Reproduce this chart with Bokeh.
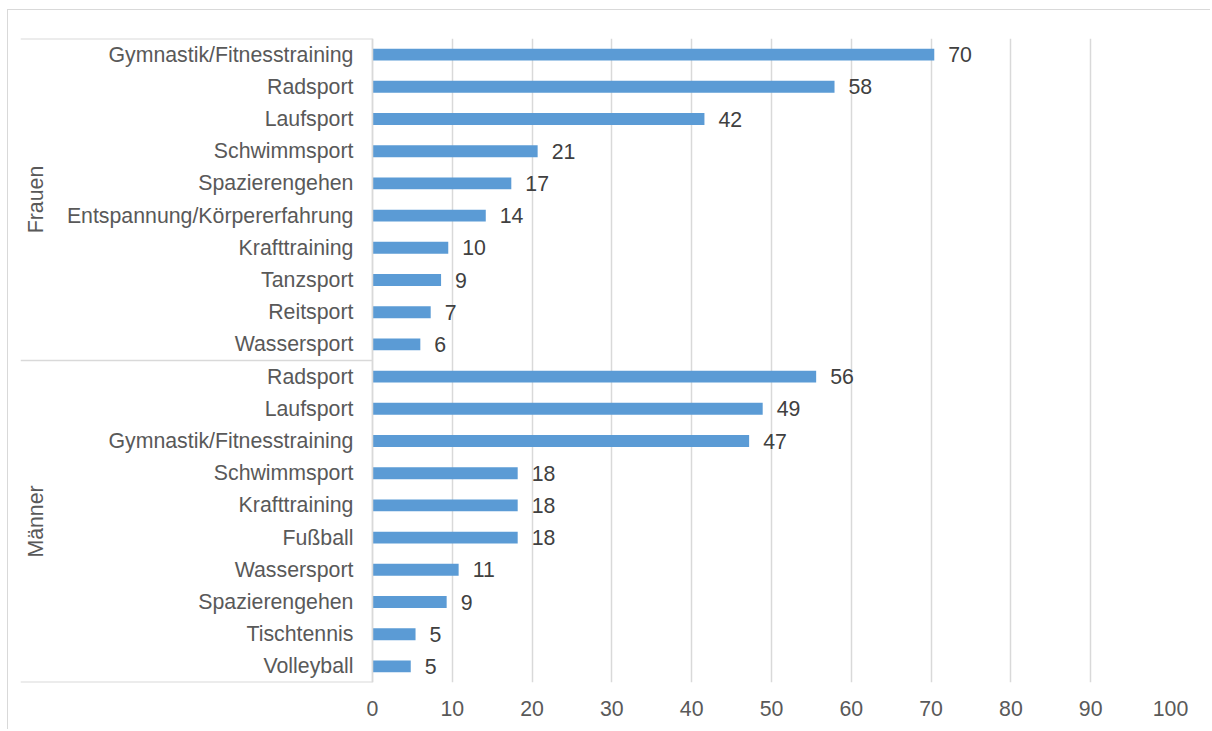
import math
from bokeh.plotting import figure
from bokeh.models import ColumnDataSource, FactorRange, Range1d, FixedTicker
from bokeh.core.properties import value
from bokeh.embed import file_html
from bokeh.resources import INLINE

# ---------------- data ----------------
groups = ["Frauen", "Männer"]

frauen_sports = ["Gymnastik/Fitnesstraining", "Radsport", "Laufsport", "Schwimmsport",
                 "Spazierengehen", "Entspannung/Körpererfahrung", "Krafttraining",
                 "Tanzsport", "Reitsport", "Wassersport"]
frauen_values = [70.4, 57.9, 41.6, 20.7, 17.4, 14.2, 9.5, 8.6, 7.3, 6.0]
frauen_labels = ["70", "58", "42", "21", "17", "14", "10", "9", "7", "6"]

maenner_sports = ["Radsport", "Laufsport", "Gymnastik/Fitnesstraining", "Schwimmsport",
                  "Krafttraining", "Fußball", "Wassersport", "Spazierengehen",
                  "Tischtennis", "Volleyball"]
maenner_values = [55.6, 48.9, 47.2, 18.2, 18.2, 18.2, 10.8, 9.3, 5.4, 4.8]
maenner_labels = ["56", "49", "47", "18", "18", "18", "11", "9", "5", "5"]

x_ticks = [0, 10, 20, 30, 40, 50, 60, 70, 80, 90, 100]

# ---------------- style ----------------
FONT = "Liberation Sans"
FS = "21.3px"
BAR_COLOR = "#5B9BD5"
GRID_COLOR = "#d9d9d9"
LABEL_COLOR = "#595959"
VALUE_COLOR = "#404040"
X_START = -44.1          # left room (in value units) for the category labels
GROUP_LABEL_X = -42.2

# bottom-to-top order for Bokeh's factor range
rows = [("Männer", s, v, l) for s, v, l in zip(maenner_sports, maenner_values, maenner_labels)][::-1] + \
       [("Frauen", s, v, l) for s, v, l in zip(frauen_sports, frauen_values, frauen_labels)][::-1]
factors = [(g, s) for g, s, _, _ in rows]

src = ColumnDataSource(dict(
    y=factors,
    value=[v for _, _, v, _ in rows],
    label=[l for _, _, _, l in rows],
))

y_range = FactorRange(*factors, range_padding=0, group_padding=0, factor_padding=0,
                      subgroup_padding=0)
x_range = Range1d(X_START, 100)

p = figure(width=1203, height=720, x_range=x_range, y_range=y_range,
           output_backend="svg", toolbar_location=None,
           min_border_left=12, min_border_right=41, min_border_top=28, min_border_bottom=48)
p.styles = {"margin-left": "7px", "margin-top": "9px",
            "border-left": "1px solid #d9d9d9", "border-top": "1px solid #d9d9d9"}
p.outline_line_color = None
p.background_fill_color = "white"
p.border_fill_color = "white"

# grid
p.ygrid.visible = False
p.xgrid.ticker = FixedTicker(ticks=x_ticks)
p.xgrid.grid_line_color = GRID_COLOR
p.xgrid.grid_line_width = 1.5

# x axis
p.xaxis.ticker = FixedTicker(ticks=x_ticks)
p.xaxis.axis_line_color = None
p.xaxis.major_tick_line_color = None
p.xaxis.minor_tick_line_color = None
p.xaxis.major_tick_out = 0
p.xaxis.major_tick_in = 0
p.xaxis.major_label_standoff = 18
p.xaxis.major_label_text_font = FONT
p.xaxis.major_label_text_font_size = FS
p.xaxis.major_label_text_color = LABEL_COLOR

# y axis (categorical) placed at x = 0 inside the plot
p.yaxis.fixed_location = 0
p.yaxis.axis_line_color = GRID_COLOR
p.yaxis.axis_line_width = 1.5
p.yaxis.major_tick_line_color = None
p.yaxis.minor_tick_line_color = None
p.yaxis.major_tick_out = 0
p.yaxis.major_tick_in = 0
p.yaxis.major_label_standoff = 19
p.yaxis.major_label_text_font = FONT
p.yaxis.major_label_text_font_size = FS
p.yaxis.major_label_text_color = LABEL_COLOR
p.yaxis.group_text_color = None
p.yaxis.separator_line_color = None

# group boundary lines
bounds = ColumnDataSource(dict(
    x0=[X_START] * 3, x1=[0] * 3,
    y=[("Männer", maenner_sports[-1], -0.5),
       ("Männer", maenner_sports[0], 0.5),
       ("Frauen", frauen_sports[0], 0.5)],
    w=[2, 1.5, 2],
))
p.segment(x0="x0", x1="x1", y0="y", y1="y", line_color=GRID_COLOR, line_width="w", source=bounds)

# group labels
p.text(x=[GROUP_LABEL_X] * len(groups), y=groups, text=groups, angle=math.pi / 2,
       text_align="center", text_baseline="middle",
       text_font=value(FONT), text_font_size=value(FS), text_color=LABEL_COLOR)

# bars
p.hbar(y="y", left=0, right="value", height=0.37, source=src,
       fill_color=BAR_COLOR, line_color=None)

# value labels
p.text(x="value", y="y", text="label", source=src, x_offset=14,
       text_align="left", text_baseline="middle",
       text_font=value(FONT), text_font_size=value(FS), text_color=VALUE_COLOR)

open("out.html", "w").write(file_html(p, INLINE))
